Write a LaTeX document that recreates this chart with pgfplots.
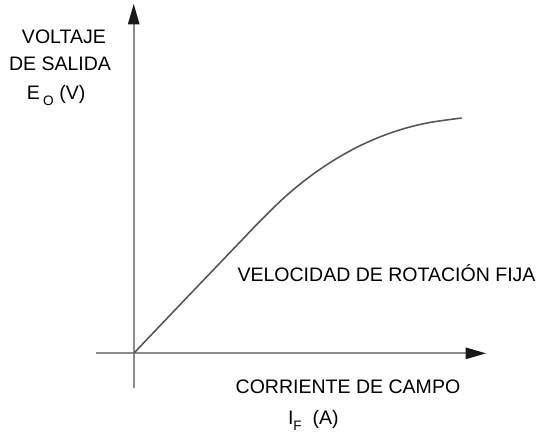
\documentclass[border=0pt]{standalone}
\usepackage{pgfplots}
\pgfplotsset{compat=1.18}
\usepackage{fontspec}
\setmainfont{Liberation Sans}
\usetikzlibrary{arrows.meta}
\definecolor{axgray}{HTML}{8C8C8C}
\definecolor{curvegray}{HTML}{555555}
\definecolor{txt}{HTML}{2A2A2A}
\begin{document}
\begin{tikzpicture}
\begin{axis}[
  x=0.5pt, y=0.5pt,
  xmin=-39, xmax=361, ymin=-35, ymax=358,
  axis lines=middle,
  axis line style={axgray, line width=1pt, -{Triangle[length=10.5pt,width=5.8pt,color=black!90]}},
  xtick=\empty, ytick=\empty,
  clip=false,
  every node/.style={font=\fontsize{9.5}{11}\selectfont, text=txt, inner sep=0pt},
]
\path (axis cs:-137,-82) rectangle (axis cs:405,362);
\addplot[curvegray, line width=0.8pt, smooth, tension=0.55] coordinates {
(0,0) (50,52.5) (105,110) (130,136) (155,160.3) (180,180.8) (205,197.8) (230,211.8) (255,222.8) (280,231.1) (305,236.8) (336,241.1)
};
\node at (axis cs:-71.5,324) {VOLTAJE};
\node at (axis cs:-75.5,297) {DE SALIDA};
\node at (axis cs:-79.5,264) {E\,\raisebox{-0.55ex}{\fontsize{7}{8}\selectfont O} (V)};
\node at (axis cs:219.5,-34) {CORRIENTE DE CAMPO};
\node at (axis cs:184,-69) {I\raisebox{-0.55ex}{\fontsize{7}{8}\selectfont F}\ \ (A)};
\node at (axis cs:259,82) {VELOCIDAD DE ROTACIÓN FIJA};
\end{axis}
\end{tikzpicture}
\end{document}
